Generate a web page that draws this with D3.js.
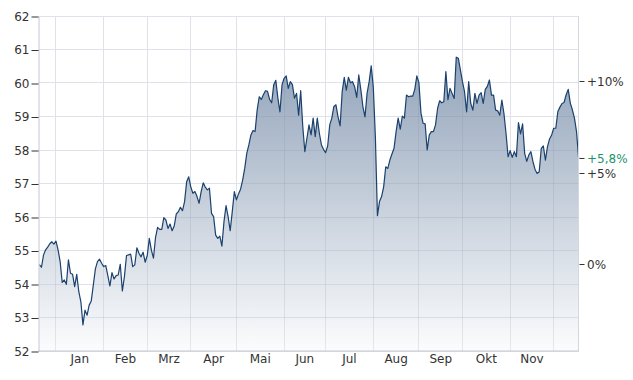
<!DOCTYPE html>
<html>
<head>
<meta charset="utf-8">
<script src="https://cdn.jsdelivr.net/npm/d3@7"></script>
<style>
  html, body { margin: 0; padding: 0; background: #fff; }
  svg text { font-family: "DejaVu Sans", Verdana, sans-serif; font-size: 12px; fill: #333; }
</style>
</head>
<body>
<svg id="chart" width="633" height="380"></svg>
<script>
// Daily closes, one per weekday starting on the first trading day below.
const firstDay = '2023-12-20';
const closes = [
  54.58, 54.50, 54.87, 55.02, 55.10, 55.20, 55.26, 55.19, 55.28, 55.02,
  54.67, 54.05, 54.12, 53.99, 54.72, 54.32, 54.29, 53.92, 54.29, 53.77,
  53.47, 52.78, 53.22, 53.07, 53.37, 53.49, 53.97, 54.45, 54.67, 54.74,
  54.62, 54.52, 54.55, 54.25, 53.94, 54.34, 54.15, 54.25, 54.27, 54.59,
  53.79, 54.22, 54.85, 54.87, 54.89, 54.52, 54.57, 55.08, 54.92, 54.81,
  54.95, 54.65, 54.85, 55.36, 55.01, 54.77, 55.39, 55.69, 55.63, 55.63,
  55.98, 55.91, 55.66, 55.79, 55.59, 55.73, 56.09, 56.16, 56.29, 56.19,
  56.46, 57.05, 57.20, 56.90, 56.71, 56.76, 56.61, 56.41, 56.76, 57.02,
  56.89, 56.81, 56.86, 56.11, 56.01, 55.46, 55.36, 55.43, 55.13, 55.86,
  56.34, 56.01, 55.59, 56.16, 56.76, 56.51, 56.69, 56.83, 57.10, 57.45,
  57.90, 58.15, 58.45, 58.58, 58.55, 59.19, 59.59, 59.51, 59.65, 59.77,
  59.75, 59.51, 59.41, 59.95, 60.08, 59.55, 59.14, 59.95, 60.14, 60.21,
  59.84, 60.04, 59.95, 59.55, 59.69, 59.04, 59.77, 58.70, 57.95, 58.35,
  58.75, 58.45, 58.95, 58.40, 58.95, 58.50, 58.15, 58.02, 57.92, 58.12,
  58.75, 58.95, 59.30, 59.35, 58.99, 58.72, 59.74, 60.17, 59.79, 60.17,
  60.01, 60.04, 59.89, 59.57, 60.24, 59.80, 59.29, 58.99, 59.69, 60.04,
  60.51, 59.89, 58.40, 56.04, 56.46, 56.61, 56.90, 57.50, 57.45, 57.70,
  57.88, 58.05, 58.55, 58.95, 58.62, 59.01, 58.95, 59.64, 59.59, 59.61,
  59.61, 59.81, 60.21, 60.01, 59.10, 58.80, 58.78, 58.00, 58.45, 58.55,
  58.55, 58.75, 59.24, 59.47, 59.41, 59.44, 60.34, 59.50, 59.84, 59.69,
  59.54, 60.77, 60.74, 60.39, 60.04, 59.74, 59.14, 60.04, 59.39, 59.19,
  59.69, 59.39, 59.64, 59.71, 59.39, 59.81, 59.90, 60.09, 59.64, 59.64,
  59.19, 59.17, 59.04, 59.49, 59.09, 58.50, 57.80, 57.98, 57.78, 57.95,
  57.80, 58.82, 58.48, 58.78, 57.90, 57.66, 57.85, 57.95, 57.65, 57.42,
  57.30, 57.35, 58.05, 58.12, 57.70, 58.10, 58.33, 58.45, 58.65, 58.65,
  59.15, 59.28, 59.39, 59.42, 59.65, 59.81, 59.40, 59.20, 58.95, 58.55,
  57.76
];
const monthLabels = ['Jan', 'Feb', 'Mrz', 'Apr', 'Mai', 'Jun', 'Jul', 'Aug', 'Sep', 'Okt', 'Nov'];
const yTicks = [52, 53, 54, 55, 56, 57, 58, 59, 60, 61, 62];
const pctTicks = [0, 0.05, 0.10];

// weekdays, one per close
const dates = [];
let d = d3.timeParse('%Y-%m-%d')(firstDay);
while (dates.length < closes.length) {
  if (d.getDay() % 6 !== 0) dates.push(d);
  d = d3.timeDay.offset(d, 1);
}
const data = closes.map((v, i) => ({ i, date: dates[i], value: v }));

const plot = { left: 38.5, right: 578.5, top: 16, bottom: 351 };

const x = d3.scaleLinear().domain([0, closes.length - 1]).range([39.4, 578.6]);
const y = d3.scaleLinear().domain([52, 62]).range([plot.bottom, plot.top]);

// first weekday of each month after the start
const monthStarts = data.filter((p, i) => i > 0 && p.date.getMonth() !== dates[i - 1].getMonth()).map((p) => p.i);

const svg = d3.select('#chart');
const crisp = (v) => Math.round(v - 0.5) + 0.5;

const area = d3.area().x((p) => x(p.i)).y0(plot.bottom).y1((p) => y(p.value));
const line = d3.line().x((p) => x(p.i)).y((p) => y(p.value));

const defs = svg.append('defs');
const grad = defs.append('linearGradient')
  .attr('id', 'fill')
  .attr('gradientUnits', 'userSpaceOnUse')
  .attr('x1', 0).attr('x2', 0)
  .attr('y1', y(d3.max(closes))).attr('y2', plot.bottom);
grad.append('stop').attr('offset', 0).attr('stop-color', '#8699b2');
grad.append('stop').attr('offset', 1).attr('stop-color', '#fbfcfd');
defs.append('clipPath').attr('id', 'under').append('path').attr('d', area(data));

function drawGrid(g) {
  yTicks.forEach((t) => {
    g.append('line')
      .attr('x1', plot.left).attr('x2', plot.right)
      .attr('y1', crisp(y(t))).attr('y2', crisp(y(t)));
  });
  monthStarts.forEach((i) => {
    g.append('line')
      .attr('x1', crisp(x(i))).attr('x2', crisp(x(i)))
      .attr('y1', plot.top).attr('y2', plot.bottom);
  });
}

// grid
drawGrid(svg.append('g').attr('stroke', '#dfe2e8'));

// area
svg.append('path').attr('d', area(data)).attr('fill', 'url(#fill)').attr('fill-opacity', 0.9);

// faint grid showing through the area
drawGrid(svg.append('g').attr('clip-path', 'url(#under)')
  .attr('stroke', '#7f8fa6').attr('stroke-opacity', 0.16));

svg.append('path').attr('d', line(data))
  .attr('fill', 'none').attr('stroke', '#1b416d').attr('stroke-width', 1.2)
  .attr('stroke-linejoin', 'round');

// frame
svg.append('line').attr('x1', plot.right).attr('x2', plot.right)
  .attr('y1', plot.top).attr('y2', plot.bottom).attr('stroke', '#d3d7de');
svg.append('line').attr('x1', plot.left).attr('x2', plot.right + 0.5)
  .attr('y1', plot.bottom).attr('y2', plot.bottom).attr('stroke', '#c3c8d0');

// left axis
const yAxis = d3.axisLeft(y).tickValues(yTicks).tickSize(7).tickSizeOuter(0).tickPadding(2);
const gy = svg.append('g').attr('transform', `translate(${plot.left},0.5)`).call(yAxis);
gy.select('.domain').attr('stroke', '#c3c8d0');
gy.selectAll('.tick line').attr('stroke', '#333');
gy.selectAll('.tick text').attr('fill', '#333').style('font-size', '12px')
  .style('font-family', '"DejaVu Sans", Verdana, sans-serif');

// month labels, centred in each month
monthLabels.forEach((m, k) => {
  const cx = (x(monthStarts[k]) + x(monthStarts[k + 1])) / 2;
  svg.append('text').attr('x', cx).attr('y', 363).attr('text-anchor', 'middle').text(m);
});

// right axis: performance vs first close
const base = closes[0];
const last = closes[closes.length - 1];
const de = d3.formatLocale({ decimal: ',', thousands: '.', grouping: [3], currency: ['', ' €'] });
const right = svg.append('g');
const pctLabel = (p, color, fmt) => {
  const yy = crisp(y(base * (1 + p)));
  right.append('line').attr('x1', 579.5).attr('x2', 584.5).attr('y1', yy).attr('y2', yy).attr('stroke', '#333');
  right.append('text').attr('x', 587).attr('y', yy).attr('dy', '0.35em')
    .style('fill', color).text(fmt(p));
};
pctTicks.forEach((p) => pctLabel(p, '#333', (v) => (v > 0 ? '+' : '') + Math.round(v * 100) + '%'));
pctLabel(last / base - 1, '#1e9470', (v) => '+' + de.format('.1f')(v * 100) + '%');
</script>
</body>
</html>
